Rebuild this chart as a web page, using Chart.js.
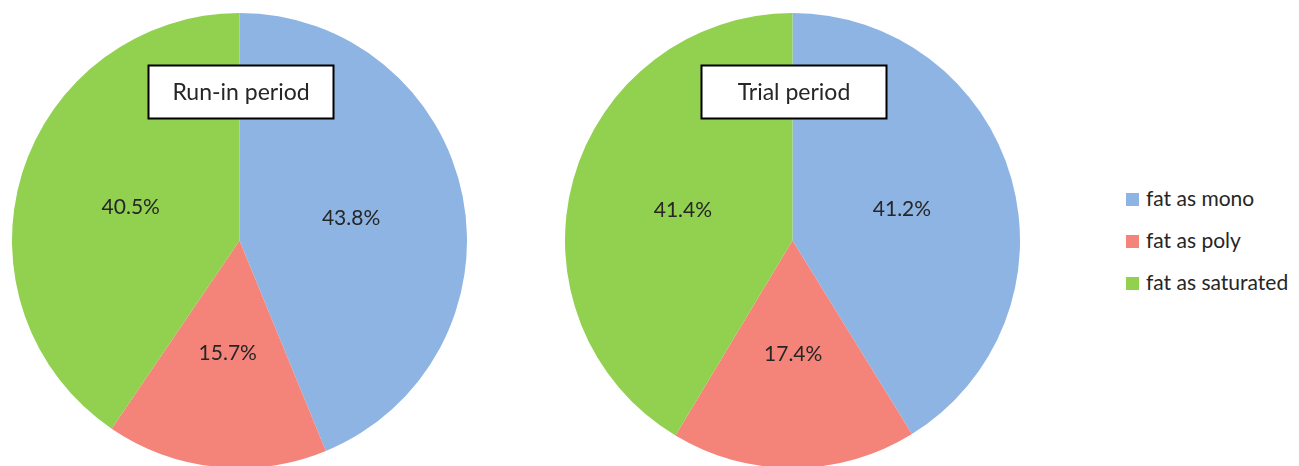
<!DOCTYPE html>
<html>
<head>
<meta charset="utf-8">
<script src="https://cdn.jsdelivr.net/npm/chart.js@4.4.0/dist/chart.umd.min.js"></script>
<style>
    html, body {
        margin: 0;
        padding: 0;
        background: #ffffff;
        width: 1299px;
        height: 466px;
        overflow: hidden;
        font-family: Lato, "Open Sans", sans-serif;
    }
    .pie-canvas {
        position: absolute;
        top: 13px;
    }
    #pieLeft { left: 12px; }
    #pieRight { left: 565px; }
    .legend {
        position: absolute;
        left: 1126px;
        top: 185px;
        color: #262626;
        font-size: 21px;
    }
    .legend-item {
        height: 42px;
        display: flex;
        align-items: flex-start;
    }
    .legend-swatch {
        width: 13px;
        height: 13px;
        margin-top: 8px;
        margin-right: 7px;
    }
</style>
</head>
<body>
<canvas id="pieLeft" class="pie-canvas" width="455" height="455"></canvas>
<canvas id="pieRight" class="pie-canvas" width="455" height="455"></canvas>
<div class="legend" id="legend"></div>

<script>
// Fat composition, share of total fat (%)
const categories = ['fat as mono', 'fat as poly', 'fat as saturated'];
const runInValues = [43.8, 15.7, 40.5];
const trialValues = [41.2, 17.4, 41.4];
const periodTitles = ['Run-in period', 'Trial period'];
const sliceColors = ['#8EB4E3', '#F4837A', '#92D050'];

// Percent label at the middle of each slice
const sliceLabels = {
    id: 'sliceLabels',
    afterDatasetsDraw(chart) {
        const ctx = chart.ctx;
        const meta = chart.getDatasetMeta(0);
        const values = chart.data.datasets[0].data;
        ctx.save();
        ctx.font = '21px Lato, "Open Sans", sans-serif';
        ctx.fillStyle = '#262626';
        ctx.textAlign = 'center';
        ctx.textBaseline = 'middle';
        meta.data.forEach((arc, i) => {
            const pos = arc.tooltipPosition();
            ctx.fillText(values[i].toFixed(1) + '%', pos.x, pos.y);
        });
        ctx.restore();
    }
};

// White box with a border holding the period name
const boxTitle = {
    id: 'boxTitle',
    afterDraw(chart, args, opts) {
        const ctx = chart.ctx;
        const cx = (chart.chartArea.left + chart.chartArea.right) / 2 + opts.offsetX;
        const x = Math.round(cx - opts.width / 2) + 0.5;
        const y = opts.top + 0.5;
        ctx.save();
        ctx.fillStyle = '#ffffff';
        ctx.fillRect(x, y, opts.width, opts.height);
        ctx.strokeStyle = '#000000';
        ctx.lineWidth = 2;
        ctx.strokeRect(x, y, opts.width, opts.height);
        ctx.font = '23px Lato, "Open Sans", sans-serif';
        ctx.fillStyle = '#262626';
        ctx.textAlign = 'center';
        ctx.textBaseline = 'middle';
        ctx.fillText(opts.text, x + opts.width / 2, y + opts.height / 2 + 1);
        ctx.restore();
    }
};

function makePie(canvasId, values, title) {
    return new Chart(document.getElementById(canvasId), {
        type: 'pie',
        data: {
            labels: categories,
            datasets: [{
                data: values,
                backgroundColor: sliceColors,
                borderWidth: 0
            }]
        },
        options: {
            responsive: false,
            animation: false,
            layout: { padding: 0 },
            plugins: {
                legend: { display: false },
                tooltip: { enabled: false },
                boxTitle: { text: title, width: 185, height: 53, top: 52, offsetX: 1 }
            }
        },
        plugins: [sliceLabels, boxTitle]
    });
}

makePie('pieLeft', runInValues, periodTitles[0]);
makePie('pieRight', trialValues, periodTitles[1]);

// Shared legend for both pies
const legendEl = document.getElementById('legend');
categories.forEach((name, i) => {
    const item = document.createElement('div');
    item.className = 'legend-item';
    item.innerHTML = '<span class="legend-swatch" style="background:' + sliceColors[i] + '"></span><span>' + name + '</span>';
    legendEl.appendChild(item);
});
</script>
</body>
</html>
